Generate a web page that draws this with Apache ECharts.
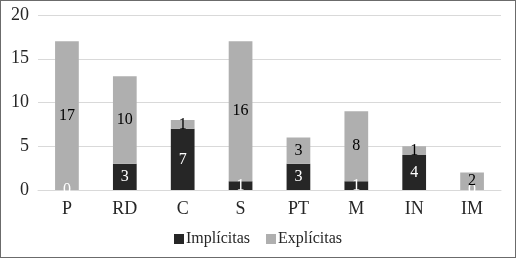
<!DOCTYPE html>
<html><head><meta charset="utf-8">
<script src="https://cdn.jsdelivr.net/npm/echarts@6/dist/echarts.min.js"></script>
<style>
html,body{margin:0;padding:0;background:#fff;}
#c{width:514px;height:256px;border:1px solid #6b6b6b;}
</style></head>
<body><div id="c"></div>
<script>
var categories = ['P','RD','C','S','PT','M','IN','IM'];
var implicitas = [0,3,7,1,3,1,4,0];
var explicitas = [17,10,1,16,3,8,1,2];
var yTicks = {min:0, max:20, interval:5};

var chart = echarts.init(document.getElementById('c'));
var font = 'Liberation Serif';
chart.setOption({
  animation:false,
  textStyle:{fontFamily:font},
  grid:{left:37,right:14,top:14,bottom:67},
  legend:{
    bottom:5, left:'center', itemWidth:10, itemHeight:10, itemGap:16,
    icon:'rect',
    textStyle:{fontFamily:font,fontSize:16,color:'#262626',padding:[0,0,0,-3]},
    data:['Implícitas','Explícitas']
  },
  xAxis:{
    type:'category', data:categories,
    axisLine:{lineStyle:{color:'#d9d9d9'}},
    axisTick:{show:false},
    axisLabel:{fontFamily:font,fontSize:18,color:'#262626',margin:10}
  },
  yAxis:{
    type:'value', min:yTicks.min, max:yTicks.max, interval:yTicks.interval,
    axisLine:{show:false}, axisTick:{show:false},
    splitLine:{lineStyle:{color:'#d9d9d9'}},
    axisLabel:{fontFamily:font,fontSize:18,color:'#262626',margin:9}
  },
  series:[
    {name:'Implícitas', type:'bar', stack:'a', data:implicitas, barWidth:'41%',
     itemStyle:{color:'#262626'},
     label:{show:true,position:'inside',color:'#ffffff',fontFamily:font,fontSize:16}},
    {name:'Explícitas', type:'bar', stack:'a', data:explicitas, barWidth:'41%',
     itemStyle:{color:'#afafaf'},
     label:{show:true,position:'inside',color:'#000000',fontFamily:font,fontSize:16}}
  ]
});
</script></body></html>
